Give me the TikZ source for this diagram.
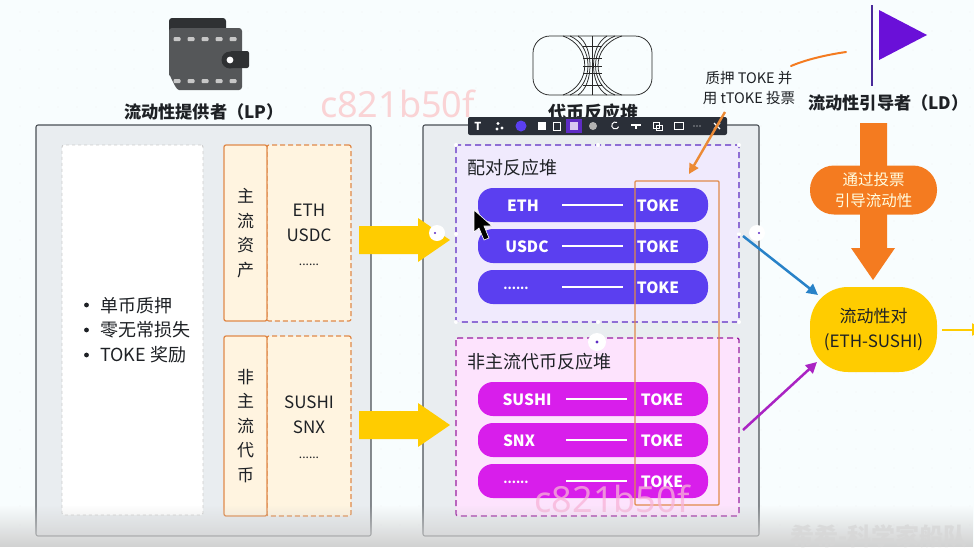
\documentclass[tikz,border=0pt]{standalone}
\usepackage{fontspec}
\setmainfont{Noto Sans CJK SC}
\newfontfamily\latinf{Noto Sans}
\usetikzlibrary{arrows.meta,calc,fadings}
\newcommand{\sixdots}{{\fontsize{12}{12}\selectfont ......}}
\definecolor{bgc}{HTML}{F8FDFE}
\definecolor{panelc}{HTML}{E9EDF0}
\definecolor{framec}{HTML}{4A5056}
\definecolor{inkc}{HTML}{1E2125}
\definecolor{orc}{HTML}{F47B20}
\definecolor{orline}{HTML}{E08A4A}
\definecolor{orarrow}{HTML}{EC8A35}
\definecolor{creamc}{HTML}{FFF4E0}
\definecolor{yelc}{HTML}{FFCC00}
\definecolor{purc}{HTML}{5B3FF0}
\definecolor{purbg}{HTML}{F0EAFD}
\definecolor{purdash}{HTML}{5E2CC4}
\definecolor{magc}{HTML}{D81EEB}
\definecolor{magbg}{HTML}{FDE3FD}
\definecolor{magdash}{HTML}{9A1FA0}
\definecolor{wmc}{HTML}{FAD3D5}
\definecolor{wmd}{HTML}{F8B4D8}
\definecolor{barc}{HTML}{2A2F38}
\definecolor{walc}{HTML}{555759}
\definecolor{wald}{HTML}{2F3133}
\definecolor{flagc}{HTML}{6A10D8}
\definecolor{polec}{HTML}{4A2A9A}
\definecolor{bluec}{HTML}{2882C8}
\definecolor{violc}{HTML}{AA23C3}
\tikzset{
 x=1pt,y=-1pt,
 panel/.style={draw=framec,line width=1.1pt,fill=panelc,rounded corners=2pt},
 notebox/.style={draw=black!20,dashed,line width=.9pt,fill=white,rounded corners=2pt},
 tagbox/.style={draw=orline,line width=1.3pt,fill=creamc,rounded corners=2pt,font=\fontsize{17}{24.5}\selectfont,text=inkc,align=center},
 listbox/.style={draw=orline,line width=1.2pt,dash pattern=on 5pt off 3pt,fill=creamc,rounded corners=2pt},
 listtext/.style={font=\fontsize{17}{24.8}\selectfont,text=inkc,align=center,inner sep=0pt},
 zone/.style={line width=1.3pt,dash pattern=on 6pt off 4pt,rounded corners=2pt},
 pill/.style={rounded corners=15pt},
 pilltext/.style={text=white,font=\fontsize{15.5}{18}\selectfont\bfseries,anchor=center},
 title/.style={font=\fontsize{17.2}{20}\selectfont\bfseries,text=inkc},
 heading/.style={font=\fontsize{18}{21}\selectfont,text=inkc,anchor=west,inner sep=0pt},
 tbicon/.style={text=white,font=\fontsize{11}{11}\selectfont\bfseries,inner sep=0pt},
 bigarrow/.style={fill=yelc,draw=none},
 thinarrow/.style={line width=2.5pt,-{Triangle[length=11pt,width=11pt]}},
}
\begin{document}
\begin{tikzpicture}
\useasboundingbox (0,0) rectangle (974,547);
\fill[bgc] (0,0) rectangle (974,547);
% dotted page grid
\foreach \gx in {20,39,...,970}{\foreach \gy in {12,31,...,540}{\fill[black!12] (\gx,\gy) circle (.45pt);}}

% ---- panels
\draw[panel] (36,125) rectangle (371,536);
\draw[panel] (423,125) rectangle (759,536);

% ---- LP contents
\node[notebox,minimum width=141pt,minimum height=370pt,inner sep=0pt] (note) at (132.5,330) {};
\node[anchor=west,font=\fontsize{18}{24.7}\selectfont,text=inkc,align=left,inner sep=0pt] (notes) at (100,330)
 {单币质押\\零无常损失\\TOKE 奖励};
\foreach \by in {305,330,355}{\fill[inkc] (86.5,\by) circle (2.4pt);}
\node[listbox,minimum width=84pt,minimum height=176pt,inner sep=0pt] (majl) at (309,233) {};
\node[listtext] (majlt) at (309,235) {ETH\\USDC\\\sixdots};
\node[tagbox,minimum width=43pt,minimum height=176pt,inner sep=0pt] (majt) at (245.5,233) {主\\流\\资\\产};
\node[listbox,minimum width=84pt,minimum height=180pt,inner sep=0pt] (minl) at (309,426) {};
\node[listtext] (minlt) at (309,427) {SUSHI\\SNX\\\sixdots};
\node[tagbox,minimum width=43pt,minimum height=180pt,inner sep=0pt] (mint) at (245.5,426) {非\\主\\流\\代\\币};

% ---- reactor zones
\draw[zone,draw=purdash,fill=purbg] (456,145) rectangle (739,322);
\draw[zone,draw=magdash,fill=magbg] (456,338) rectangle (739,516);
\coordinate (z1e) at (743,236);
\coordinate (z2e) at (743,430);
\foreach \hx/\hy in {456/145,598/145,739/145,456/234,739/234,456/322,598/322,739/322}{\fill[white] (\hx,\hy) circle (2pt);}
\node[heading] (hz1) at (467,168) {配对反应堆};
\node[heading] (hz2) at (467,362) {非主流代币反应堆};

% pills
\foreach \py/\pa/\px in {205/ETH/523,246/USDC/527,287/\sixdots/516}{
 \fill[purc,pill] (478,\py-17) rectangle (708,\py+17);
 \node[pilltext] at (\px,\py+1) {\pa};
 \draw[white,line width=1.2pt] (562,\py) -- (623,\py);
 \node[pilltext] at (658,\py+1) {TOKE};
}
\foreach \py/\pa/\px in {399/SUSHI/527,440/SNX/519,481/\sixdots/516}{
 \fill[magc,pill] (478,\py-17) rectangle (708,\py+17);
 \node[pilltext] at (\px,\py+1) {\pa};
 \draw[white,line width=1.2pt] (566,\py) -- (627,\py);
 \node[pilltext] at (662,\py+1) {TOKE};
}
\draw[orline,line width=1.3pt,rounded corners=1pt] (635,181) rectangle (719,505);
\coordinate (stk) at (689,174);

% ---- big yellow arrows
\fill[bigarrow] (359,226) -- (418,226) -- (418,218) -- (450,240) -- (418,262) -- (418,254) -- (359,254) -- cycle;
\fill[bigarrow] (359,411) -- (418,411) -- (418,403) -- (450,425) -- (418,447) -- (418,439) -- (359,439) -- cycle;
\fill[white] (437,233) circle (8pt);
\fill[purdash] (435,233) circle (1.2pt);
\fill[white] (757,233) circle (8pt);
\fill[purdash] (759,233) circle (1.2pt);
\fill[white] (597,342) circle (9pt);
\fill[purdash] (597,342) circle (1.6pt);

% cursor
\fill[black,draw=white,line width=.6pt] (474,210) -- (474,232) -- (479,228) -- (484,240) -- (489,238) -- (484,226) -- (492,226) -- cycle;

% ---- top icons and titles
% wallet
\fill[wald,rounded corners=3pt] (169,18) rectangle (226,40);
\fill[walc,rounded corners=3pt] (169,28) -- (242,28) -- (242,90) -- (182,90) to[out=180,in=90] (169,78) -- cycle;
\foreach \wx in {177,191,205,219,233}{
 \fill[black!22,rounded corners=1pt] (\wx-3.5,37) rectangle (\wx+3.5,41);
 \fill[black!22,rounded corners=1pt] (\wx-3.5,79) rectangle (\wx+3.5,83);
}
\fill[wald,rounded corners=2pt] (230,51) rectangle (249,68);
\fill[wald] (230,60) circle (8.5pt);
\fill[white] (230,60) circle (3.4pt);
\node[title] (tlp) at (204,112) {流动性提供者（LP）};

% token reactor icon
\begin{scope}[line width=.75pt,draw=black!85]
 \draw[rounded corners=17pt] (533,36) rectangle (652,95);
 \draw (563,36) .. controls (592,46) and (592,85) .. (563,95);
 \draw (570,36) .. controls (594,46) and (594,85) .. (570,95);
 \draw (578,36) .. controls (594,46) and (594,85) .. (578,95);
 \draw (622,36) .. controls (590,46) and (590,85) .. (622,95);
 \draw (615,36) .. controls (589,46) and (589,85) .. (615,95);
 \draw (607,36) .. controls (589,46) and (589,85) .. (607,95);
 \draw (592.5,36) -- (592.5,95);
 \foreach \ly in {46,58,66,73,85}{\draw (583,\ly) -- (602,\ly);}
\end{scope}
\node[title,font=\fontsize{18}{21}\selectfont\bfseries] (trc) at (593,113) {代币反应堆};

% watermark
\node[text=wmc,font=\latinf\fontsize{36}{36}\selectfont,inner sep=0pt] (wm1) at (397.5,104) {c821b50f};
\node[text=wmd,opacity=.75,font=\latinf\bfseries\fontsize{36}{36}\selectfont,inner sep=0pt] (wm2) at (612,499) {c821b50f};

% toolbar
\fill[barc,rounded corners=2pt] (468,117) rectangle (727,135);
\fill[purdash] (566,119) rectangle (582,133);
\node[tbicon] (tb1) at (478,126) {T};
\fill[white] (498,123.5) circle (1.6pt) (502,128) circle (1.6pt) (497,129) circle (1.6pt);
\fill[purc] (521,126) circle (5.5pt);
\fill[white] (538,122) rectangle (546,130);
\draw[white,line width=.8pt] (553.5,122) rectangle (560.5,130);
\fill[white!75!purdash] (570,122) rectangle (578,130);
\fill[white!70!black] (593,126) circle (4pt);
\draw[white,line width=1pt] (617,122.5) arc[start angle=60,end angle=340,radius=3.5pt];
\draw[white,line width=1.4pt] (631,125) -- (641,125) (636,125) -- (636,129);
\draw[white,line width=.8pt] (653,122) rectangle (659,128) (656,125) rectangle (662,130);
\draw[white,line width=.8pt] (674,122) rectangle (683,129);
\foreach \dx in {694,697,700}{\fill[white] (\dx,126) circle (.7pt);}
\draw[white,line width=1.1pt] (714,123) -- (720,129) (720,123) -- (714,129);

% annotation
\node[font=\fontsize{14.5}{20}\selectfont,text=inkc,align=center,inner sep=0pt] (ann) at (749,88) {质押 TOKE 并\\用 tTOKE 投票};
\coordinate (annb) at (725,112);
\draw[orarrow,line width=2.4pt,-{Triangle[length=10pt,width=10pt]}] (annb) -- (stk);

% orange stroke
\draw[orc,line width=2pt,line cap=round] (791,66) .. controls (805,60) and (825,55) .. (846,52);

% LD flag
\draw[polec,line width=1.6pt] (872,5) -- (872,86);
\fill[flagc] (879,10) -- (927,35) -- (879,60) -- cycle;
\node[title] (tld) at (888.5,103) {流动性引导者（LD）};

% vote arrow
\fill[orc] (860,123) -- (887,123) -- (887,248) -- (895,248) -- (873,280) -- (851,248) -- (860,248) -- cycle;
\node[fill=orc,rounded corners=24pt,minimum width=127pt,minimum height=49pt,inner sep=0pt,text=white!88!yellow,font=\fontsize{15.5}{21}\selectfont,align=center] (vote) at (873.5,190) {通过投票\\引导流动性};

% liquidity pair
\node[fill=yelc,rounded corners=38pt,minimum width=127pt,minimum height=85pt,inner sep=0pt,text=inkc,font=\fontsize{17}{25}\selectfont,align=center] (pair) at (873.5,329.5) {流动性对\\(ETH-SUSHI)};
\coordinate (out) at (984,329.5);
\coordinate (pn) at (818,295);
\coordinate (ps) at (817,362);
\draw[yelc,line width=2pt,-{Triangle[length=12pt,width=12pt]}] ($(pair.east)+(5,0)$) -- (out);

% connectors
\draw[thinarrow,color=bluec] (z1e) -- (pn);
\draw[thinarrow,color=violc] (z2e) -- (ps);

% bottom fade
\shade[top color=black!12,bottom color=black!12,opacity=.0] (0,512) rectangle (974,513);
\fill[black!18,path fading=north] (0,505) rectangle (974,547);
\node[text=black!16,opacity=.75,font=\bfseries\fontsize{24}{24}\selectfont,anchor=east,inner sep=0pt] (wm3) at (968,536) {希希-科学家船队};
\end{tikzpicture}
\end{document}
